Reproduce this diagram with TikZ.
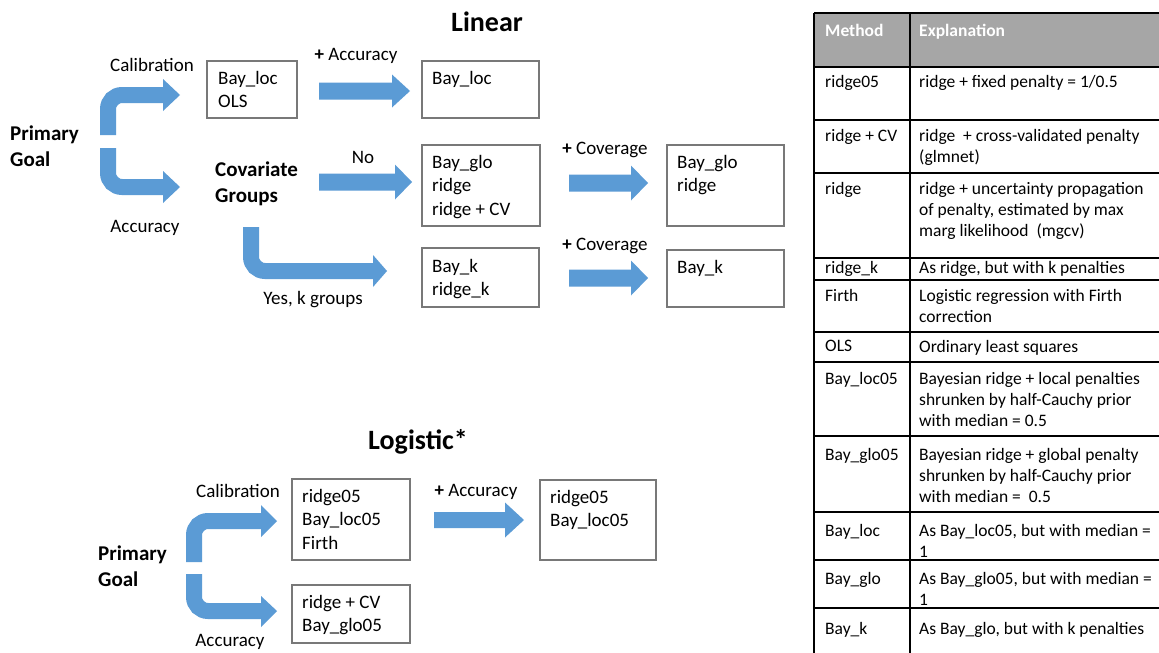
\documentclass[tikz,border=0pt]{standalone}
\usepackage{fontspec}
\setmainfont{Carlito}
\usetikzlibrary{calc}
\definecolor{arrowblue}{RGB}{91,155,213}
\definecolor{boxgray}{RGB}{120,120,120}
\definecolor{headgray}{RGB}{166,166,166}
\tikzset{
  box/.style={draw=boxgray, line width=2.4pt, fill=white},
  txt/.style={inner sep=0pt, font=\fontsize{19}{23.5}\selectfont, align=left},
  lbl/.style={inner sep=0pt, font=\fontsize{19}{23.5}\selectfont},
  blbl/.style={inner sep=0pt, font=\fontsize{21}{26}\selectfont\bfseries, align=left},
  title/.style={inner sep=0pt, font=\fontsize{28}{32}\selectfont\bfseries},
  bent/.style={draw=arrowblue, line width=16pt, rounded corners=14pt},
  head/.style={fill=arrowblue},
  tcell/.style={inner sep=0pt, font=\fontsize{17.5}{21}\selectfont, align=left, anchor=north west},
  thead/.style={inner sep=0pt, font=\fontsize{17.5}{21}\selectfont\bfseries, text=white, anchor=base west},
  tline/.style={draw=black, line width=1.2pt}
}
% straight block arrow: x1, xhead, xtip, y, shafthalf, headhalf
\newcommand\blockarrow[6]{%
  \fill[arrowblue] ({#1},{#4-#5}) -- ({#2},{#4-#5}) -- ({#2},{#4-#6}) -- ({#3},{#4}) -- ({#2},{#4+#6}) -- ({#2},{#4+#5}) -- ({#1},{#4+#5}) -- cycle;}
\begin{document}
\begin{tikzpicture}[x=1pt, y=-1pt]
\useasboundingbox[fill=white] (0,0) rectangle (1159,653);

% ---------------- Linear ----------------
\node[title] (tlin) at (487,22) {Linear};
\node[blbl, anchor=west] (pg1) at (10,146) {Primary\\Goal};

% bent arrows
\draw[bent] (108,135) -- (108,95) -- (164,95);
\fill[head] (163,79) -- (180,95) -- (163,111) -- cycle;
\draw[bent] (108,148) -- (108,187) -- (164,187);
\fill[head] (163,171) -- (180,187) -- (163,203) -- cycle;
\node[lbl] (cal1) at (152,65) {Calibration};
\node[lbl] (acc1) at (145,228) {Accuracy};

% boxes
\path[box] (207,61) rectangle (297,118);
\node[txt, anchor=north west] (b1) at (218,71) {Bay\_loc\\OLS};
\blockarrow{319}{392}{410}{91}{8.5}{16.5}
\node[lbl] (pacc1) at (356,56) {\textbf{+} Accuracy};
\path[box] (422,61) rectangle (539,118);
\node[txt, anchor=north west] (b2) at (432,71) {Bay\_loc};

\node[blbl, anchor=west] (cg) at (215,184) {Covariate\\Groups};
\node[lbl] (no) at (363,157) {No};
\blockarrow{319}{395}{412}{182}{8.5}{17.5}
\path[box] (422,145) rectangle (540,226);
\node[txt, anchor=north west] (b3) at (432,155) {Bay\_glo\\ridge\\ridge + CV};

\draw[bent] (251,227) -- (251,271) -- (374,271);
\fill[head] (373,255) -- (387,271) -- (373,287) -- cycle;
\node[lbl] (yes) at (313,300) {Yes, k groups};
\path[box] (422,248) rectangle (539,307);
\node[txt, anchor=north west] (b4) at (432,259) {Bay\_k\\ridge\_k};

\node[lbl] (pcov1) at (605,150) {\textbf{+} Coverage};
\blockarrow{569}{631}{648}{183}{8.5}{17.5}
\path[box] (667,145) rectangle (784,226);
\node[txt, anchor=north west] (b5) at (677,155) {Bay\_glo\\ridge};

\node[lbl] (pcov2) at (605,246) {\textbf{+} Coverage};
\blockarrow{569}{631}{648}{278}{8.5}{17.5}
\path[box] (667,250) rectangle (784,307);
\node[txt, anchor=north west] (b6) at (677,260) {Bay\_k};

% ---------------- Logistic ----------------
\node[title] (tlog) at (418,442) {Logistic*};
\node[blbl, anchor=west] (pg2) at (98,566) {Primary\\Goal};
\draw[bent] (194,562) -- (194,521) -- (262,521);
\fill[head] (261,505) -- (277,521) -- (261,537) -- cycle;
\draw[bent] (194,574) -- (194,611) -- (262,611);
\fill[head] (261,596) -- (277,611) -- (261,627) -- cycle;
\node[lbl] (cal2) at (238,491) {Calibration};
\node[lbl] (acc2) at (230,642) {Accuracy};

\path[box] (292,479) rectangle (410,560);
\node[txt, anchor=north west] (b7) at (302,489) {ridge05\\Bay\_loc05\\Firth};
\path[box] (292,585) rectangle (410,643);
\node[txt, anchor=north west] (b8) at (302,595) {ridge + CV\\Bay\_glo05};

\node[lbl] (pacc2) at (476,492) {\textbf{+} Accuracy};
\blockarrow{434}{505}{524}{520}{8}{17.5}
\path[box] (540,480) rectangle (656,560);
\node[txt, anchor=north west] (b9) at (550,490) {ridge05\\Bay\_loc05};

% ---------------- Table ----------------
\fill[headgray] (814,13) rectangle (1159,67);
\foreach \yy in {13,67,120,173,258,280,332,362,436,512,560,608}
  \draw[tline] (814,\yy) -- (1159,\yy);
\draw[tline] (814,13) -- (814,653);
\draw[tline] (910,13) -- (910,653);

\node[thead] (h1) at (825,36) {Method};
\node[thead] (h2) at (919,36) {Explanation};

\node[tcell] (m1) at (825,75) {ridge05};
\node[tcell] (e1) at (919,75) {ridge + fixed penalty = 1/0.5};
\node[tcell] (m2) at (825,129) {ridge + CV};
\node[tcell] (e2) at (919,129) {ridge\ \ + cross-validated penalty\\(glmnet)};
\node[tcell] (m3) at (825,182) {ridge};
\node[tcell] (e3) at (919,182) {ridge + uncertainty propagation\\of penalty, estimated by max\\marg likelihood\ \ (mgcv)};
\node[tcell] (m4) at (825,261) {ridge\_k};
\node[tcell] (e4) at (919,261) {As ridge, but with k penalties};
\node[tcell] (m5) at (825,289) {Firth};
\node[tcell] (e5) at (919,289) {Logistic regression with Firth\\correction};
\node[tcell] (m6) at (825,340) {OLS};
\node[tcell] (e6) at (919,340) {Ordinary least squares};
\node[tcell] (m7) at (825,372) {Bay\_loc05};
\node[tcell] (e7) at (919,372) {Bayesian ridge + local penalties\\shrunken by half-Cauchy prior\\with median = 0.5};
\node[tcell] (m8) at (825,448) {Bay\_glo05};
\node[tcell] (e8) at (919,448) {Bayesian ridge + global penalty\\shrunken by half-Cauchy prior\\with median =\ \ 0.5};
\node[tcell] (m9) at (825,524) {Bay\_loc};
\node[tcell] (e9) at (919,524) {As Bay\_loc05, but with median =\\1};
\node[tcell] (m10) at (825,572) {Bay\_glo};
\node[tcell] (e10) at (919,572) {As Bay\_glo05, but with median =\\1};
\node[tcell] (m11) at (825,622) {Bay\_k};
\node[tcell] (e11) at (919,622) {As Bay\_glo, but with k penalties};
\end{tikzpicture}
\end{document}
